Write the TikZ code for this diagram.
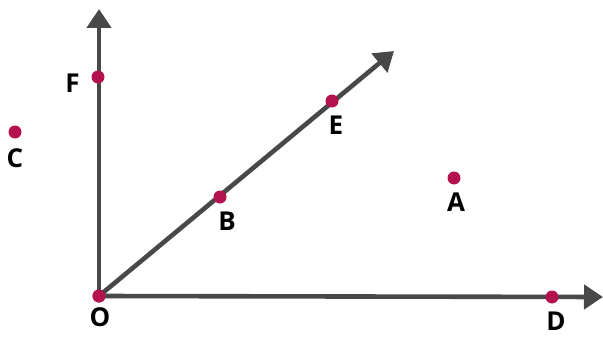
\documentclass[tikz,border=0pt]{standalone}
\usepackage{fontspec}
\setmainfont{Open Sans}
\usetikzlibrary{arrows.meta}
\definecolor{axis}{HTML}{484848}
\definecolor{dotc}{HTML}{B3124F}
\tikzset{
  dot/.style={circle,fill=dotc,inner sep=0pt,minimum size=13pt},
  lbl/.style={font=\fontsize{26}{26}\selectfont\bfseries,text=black,inner sep=0pt},
  ray/.style={draw=axis,line width=4.6pt,-{Triangle[width=24pt,length=19pt]}}
}
\begin{document}
\begin{tikzpicture}[x=1pt,y=-1pt]
\useasboundingbox (0,0) rectangle (603,337);
\coordinate (tipF) at (99,9);
\coordinate (tipE) at (394,51);
\coordinate (tipD) at (603,297);
\node[dot] (O) at (99,296) {};
\draw[ray] (O.center) -- (tipF);
\draw[ray] (O.center) -- (tipE);
\draw[ray] (O.center) -- (tipD);
\node[dot] (O2) at (99,296) {};
\node[dot] (F) at (98,77) {};
\node[dot] (C) at (15,132) {};
\node[dot] (B) at (220,197) {};
\node[dot] (E) at (332,101) {};
\node[dot] (A) at (454,178) {};
\node[dot] (D) at (552,297) {};
\node[lbl] (lO) at (100,317) {O};
\node[lbl] (lF) at (72.5,83) {F};
\node[lbl] (lC) at (15,158) {C};
\node[lbl] (lB) at (227,221) {B};
\node[lbl] (lE) at (336,125) {E};
\node[lbl] (lA) at (456,202) {A};
\node[lbl] (lD) at (556,321) {D};
\end{tikzpicture}
\end{document}
